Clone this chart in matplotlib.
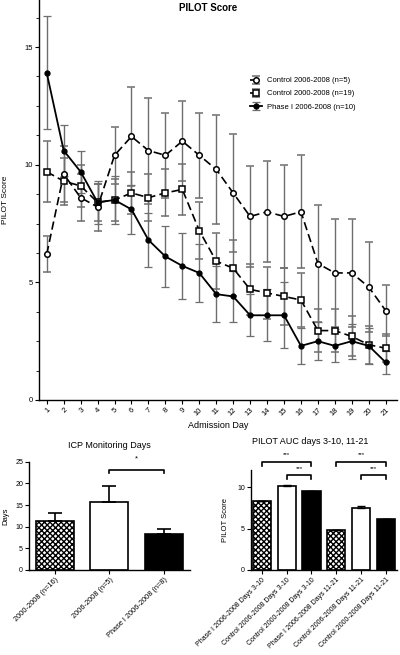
import matplotlib
matplotlib.use("Agg")
import matplotlib.pyplot as plt
from matplotlib.ticker import MultipleLocator
import numpy as np

plt.rcParams['font.family'] = ['Liberation Sans', 'DejaVu Sans']

# ---------------- data ----------------
days = list(range(1, 22))
ctrl0608 = [6.2, 9.6, 8.6, 8.2, 10.4, 11.2, 10.6, 10.4, 11.0, 10.4, 9.8, 8.8, 7.8, 8.0, 7.8, 8.0, 5.8, 5.4, 5.4, 4.8, 3.8]
ctrl0608_err = [0.75, 1.2, 1.0, 1.0, 1.2, 2.1, 2.25, 1.8, 1.7, 1.8, 2.3, 2.5, 2.15, 2.15, 2.2, 2.4, 2.5, 2.3, 2.3, 1.9, 1.1]
ctrl0008 = [9.7, 9.3, 9.1, 8.4, 8.5, 8.8, 8.6, 8.8, 8.95, 7.2, 5.9, 5.6, 4.7, 4.55, 4.4, 4.25, 2.95, 2.95, 2.7, 2.35, 2.2]
ctrl0008_err = [1.3, 1.0, 0.9, 0.8, 0.9, 0.9, 1.0, 1.0, 1.1, 1.2, 1.2, 1.2, 1.1, 1.1, 1.2, 1.15, 0.9, 0.9, 0.85, 0.8, 0.6]
phase1 = [13.9, 10.6, 9.7, 8.4, 8.5, 8.1, 6.8, 6.1, 5.7, 5.4, 4.5, 4.4, 3.6, 3.6, 3.6, 2.3, 2.5, 2.3, 2.5, 2.3, 1.6]
phase1_err = [2.4, 1.1, 0.9, 0.9, 1.0, 1.05, 1.15, 1.3, 1.4, 1.25, 1.2, 1.1, 0.9, 1.1, 1.4, 0.75, 0.8, 0.7, 0.75, 0.75, 0.5]
series_labels = ["Control 2006-2008 (n=5)", "Control 2000-2008 (n=19)", "Phase I 2006-2008 (n=10)"]

icp_labels = ["2000-2008 (n=16)", "2006-2008 (n=5)", "Phase I 2006-2008 (n=8)"]
icp_vals = [11.4, 15.8, 8.2]
icp_err = [1.7, 3.5, 1.3]

auc_labels = ["Phase I 2006-2008 Days 3-10", "Control 2006-2008 Days 3-10", "Control 2000-2008 Days 3-10",
              "Phase I 2006-2008 Days 11-21", "Control 2006-2008 Days 11-21", "Control 2000-2008 Days 11-21"]
auc_vals = [8.4, 10.2, 9.5, 4.9, 7.55, 6.2]
auc_err = [0.0, 0.05, 0.0, 0.0, 0.15, 0.0]

# ---------------- figure ----------------
W, H = 400, 655
fig = plt.figure(figsize=(W / 100, H / 100), dpi=100)

def ax_px(l, t, r, b):
    return fig.add_axes([l / W, 1 - b / H, (r - l) / W, (b - t) / H])

def style(ax, fs):
    for s in ['top', 'right']:
        ax.spines[s].set_visible(False)
    for s in ['left', 'bottom']:
        ax.spines[s].set_linewidth(1.0)
    ax.tick_params(axis='both', direction='out', labelsize=fs, length=3, width=0.8, pad=1.5)

# ---------------- main line chart ----------------
ax = ax_px(39.3, 0, 396.7, 400)
style(ax, 5.5)
ecol = '#6e6e6e'
dash = (0, (5, 2.5))
ax.errorbar(days, ctrl0608, yerr=ctrl0608_err, color='black', ls=dash, lw=1.2,
            marker='o', ms=4.0, mfc='white', mec='black', mew=1.1,
            ecolor=ecol, elinewidth=1.0, capsize=3, capthick=0.9, label=series_labels[0], zorder=3)
ax.errorbar(days, ctrl0008, yerr=ctrl0008_err, color='black', ls=dash, lw=1.2,
            marker='s', ms=4.2, mfc='white', mec='black', mew=1.1,
            ecolor=ecol, elinewidth=1.0, capsize=3, capthick=0.9, label=series_labels[1], zorder=3)
ax.errorbar(days, phase1, yerr=phase1_err, color='black', ls='-', lw=1.3,
            marker='o', ms=3.5, mfc='black', mec='black',
            ecolor=ecol, elinewidth=1.0, capsize=3, capthick=0.9, label=series_labels[2], zorder=3)
ax.set_xlim(0.56, 21.65)
ax.set_ylim(0, 17)
ax.set_xticks(days)
ax.set_xticklabels([str(d) for d in days], rotation=45, ha='right', rotation_mode='anchor', fontsize=5.5)
ax.set_yticks([0, 5, 10, 15])
ax.yaxis.set_minor_locator(MultipleLocator(1.25))
ax.tick_params(axis='y', which='minor', length=2, width=0.6)
ax.set_xlabel("Admission Day", fontsize=6.5, labelpad=3)
ax.set_ylabel("PILOT Score", fontsize=6)
ax.yaxis.set_label_coords(-0.085, 0.5)
fig.text(208 / W, 1 - 8 / H, "PILOT Score", fontsize=7, fontweight='bold', ha='center', va='center')
ax.legend(loc='upper left', bbox_to_anchor=(247 / W, 1 - 74 / H), bbox_transform=fig.transFigure,
          frameon=False, fontsize=5.5, handlelength=1.6, labelspacing=0.75, handletextpad=0.6,
          borderaxespad=0)

# ---------------- ICP monitoring days ----------------
ax2 = ax_px(29.3, 461.7, 190, 570)
style(ax2, 5)
x2 = np.arange(len(icp_vals))
bars = ax2.bar(x2, icp_vals, width=0.7, color=['white', 'white', 'black'], edgecolor='black', linewidth=1.2,
               yerr=[[0] * 3, icp_err], error_kw=dict(ecolor='black', elinewidth=1.2, capsize=5, capthick=1.2))
bars[0].set_hatch('xxxxxx')
ax2.set_xlim(-0.47, 2.48)
ax2.set_ylim(0, 25)
ax2.set_yticks([0, 5, 10, 15, 20, 25])
ax2.set_xticks(x2)
ax2.set_xticklabels(icp_labels, rotation=45, ha='right', rotation_mode='anchor', fontsize=5.3)
ax2.set_ylabel("Days", fontsize=5.5, labelpad=4)
ax2.set_title("ICP Monitoring Days", fontsize=6.5, pad=10)
ax2.plot([1, 1, 2, 2], [22.4, 23.1, 23.1, 22.4], color='black', lw=1.2, clip_on=False)
ax2.text(1.5, 25.6, "*", ha='center', va='center', fontsize=5.5, clip_on=False)

# ---------------- PILOT AUC ----------------
ax3 = ax_px(251, 470, 397, 570)
style(ax3, 5)
x3 = np.arange(len(auc_vals))
bars3 = ax3.bar(x3, auc_vals, width=0.73, color=['white', 'white', 'black'] * 2, edgecolor='black', linewidth=1.2,
                yerr=[[0] * 6, auc_err], error_kw=dict(ecolor='black', elinewidth=1.0, capsize=3, capthick=1.0))
bars3[0].set_hatch('xxxxxx')
bars3[3].set_hatch('xxxxxx')
ax3.set_xlim(-0.44, 5.45)
ax3.set_ylim(0, 12.1)
ax3.set_yticks([0, 5, 10])
ax3.set_xticks(x3)
ax3.set_xticklabels(auc_labels, rotation=45, ha='right', rotation_mode='anchor', fontsize=5.0)
ax3.set_ylabel("PILOT Score", fontsize=5.5, labelpad=6)
fig.text(310 / W, 1 - 442 / H, "PILOT AUC days 3-10, 11-21", fontsize=6.5, ha='center', va='center')
for (a, b, yb, ys) in [(0, 2, 13.1, 14.0), (1, 2, 11.5, 12.3), (3, 5, 13.1, 14.0), (4, 5, 11.5, 12.3)]:
    ax3.plot([a, a, b, b], [yb - 0.5, yb, yb, yb - 0.5], color='black', lw=1.2, clip_on=False)
    ax3.text((a + b) / 2, ys, "***", ha='center', va='center', fontsize=4.5, clip_on=False)

fig.savefig("out.png", dpi=100)
